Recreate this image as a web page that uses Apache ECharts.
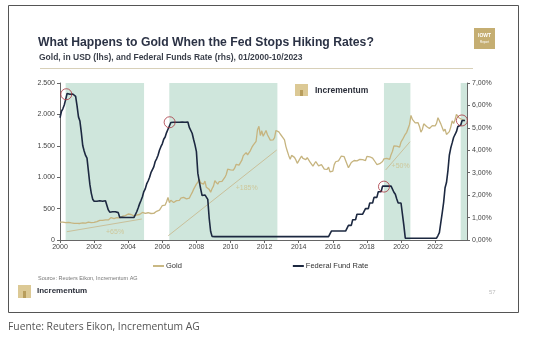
<!DOCTYPE html>
<html><head><meta charset="utf-8">
<script src="https://cdn.jsdelivr.net/npm/echarts@6/dist/echarts.min.js"></script>
<style>html,body{margin:0;padding:0;background:#fff}#c{width:540px;height:343px}</style>
</head><body><div id="c"></div>
<script>
// Monthly gold price (USD), Jan 2000 - Oct 2023
const goldStartYear = 2000;
const gold = [
284,300,286,280,275,285,282,274,273,270,266,272,
266,262,263,260,272,270,268,273,283,283,276,276,
282,296,294,302,314,321,314,310,319,317,319,333,
357,359,340,328,355,356,351,360,379,379,389,407,
414,405,406,404,384,392,398,400,406,420,439,442,
424,423,434,428,422,431,424,438,457,470,476,510,
549,555,557,610,676,596,633,632,598,585,627,629,
631,665,655,679,667,655,665,665,712,754,806,803,
889,922,968,909,888,889,939,839,829,806,760,816,
858,943,924,890,928,946,934,949,996,1043,1127,1135,
1118,1095,1114,1148,1205,1232,1193,1215,1271,1343,1370,1391,
1356,1372,1424,1474,1510,1528,1572,1756,1810,1665,1739,1652,
1656,1743,1675,1649,1591,1598,1594,1630,1744,1770,1721,1688,
1670,1627,1593,1487,1414,1343,1286,1347,1349,1316,1275,1221,
1244,1300,1336,1299,1288,1279,1311,1296,1239,1222,1176,1200,
1250,1227,1179,1198,1199,1181,1128,1117,1124,1159,1086,1062,
1097,1200,1246,1242,1260,1276,1337,1341,1326,1267,1236,1151,
1192,1234,1231,1266,1246,1260,1236,1283,1314,1280,1283,1265,
1331,1331,1325,1335,1303,1282,1238,1202,1198,1215,1220,1250,
1291,1320,1300,1285,1283,1359,1413,1500,1510,1495,1471,1480,
1560,1597,1592,1683,1715,1732,1840,1985,1921,1900,1866,1858,
1867,1808,1718,1760,1850,1834,1807,1785,1776,1777,1821,1790,
1817,1856,1948,1937,1849,1837,1733,1765,1681,1650,1726,1798,
1898,1855,1913,1999,1991,1942,1951,1918,1916,1900
];
// Monthly effective Federal Funds Rate (%), Jan 2000 - Oct 2023
const fedStartYear = 2000;
const fedRate = [
5.45,5.73,5.85,6.02,6.27,6.53,6.54,6.50,6.52,6.51,6.51,6.40,
5.98,5.49,5.31,4.80,4.21,3.97,3.77,3.65,3.07,2.49,2.09,1.82,
1.73,1.74,1.73,1.75,1.75,1.75,1.73,1.74,1.75,1.75,1.34,1.24,
1.24,1.26,1.25,1.26,1.26,1.22,1.01,1.03,1.01,1.01,1.00,0.98,
1.00,1.01,1.00,1.00,1.00,1.03,1.26,1.43,1.61,1.76,1.93,2.16,
2.28,2.50,2.63,2.79,3.00,3.04,3.26,3.50,3.62,3.78,4.00,4.16,
4.29,4.49,4.59,4.79,4.94,4.99,5.24,5.25,5.25,5.25,5.25,5.24,
5.25,5.26,5.26,5.25,5.25,5.25,5.26,5.02,4.94,4.76,4.49,4.24,
3.94,2.98,2.61,2.28,1.98,2.00,2.01,2.00,1.81,0.97,0.39,0.16,
0.15,0.15,0.15,0.15,0.15,0.15,0.15,0.15,0.15,0.15,0.15,0.15,
0.15,0.15,0.15,0.15,0.15,0.15,0.15,0.15,0.15,0.15,0.15,0.15,
0.15,0.15,0.15,0.15,0.15,0.15,0.15,0.15,0.15,0.15,0.15,0.15,
0.15,0.15,0.15,0.15,0.15,0.15,0.15,0.15,0.15,0.15,0.15,0.15,
0.15,0.15,0.15,0.15,0.15,0.15,0.15,0.15,0.15,0.15,0.15,0.15,
0.15,0.15,0.15,0.15,0.15,0.15,0.15,0.15,0.15,0.15,0.15,0.15,
0.15,0.15,0.15,0.15,0.15,0.15,0.15,0.15,0.15,0.15,0.15,0.40,
0.40,0.40,0.40,0.40,0.40,0.40,0.40,0.40,0.40,0.40,0.40,0.65,
0.65,0.65,0.90,0.90,0.90,1.15,1.15,1.15,1.15,1.15,1.15,1.40,
1.40,1.40,1.65,1.65,1.65,1.90,1.90,1.90,2.15,2.15,2.15,2.40,
2.40,2.40,2.40,2.40,2.40,2.40,2.40,2.13,2.04,1.83,1.65,1.65,
1.65,1.65,0.65,0.08,0.08,0.08,0.08,0.08,0.08,0.08,0.08,0.08,
0.08,0.08,0.08,0.08,0.08,0.08,0.08,0.08,0.08,0.08,0.08,0.08,
0.08,0.08,0.20,0.33,0.77,1.21,1.68,2.33,2.56,3.08,3.78,4.10,
4.33,4.57,4.65,4.83,5.06,5.08,5.12,5.33,5.33,5.33
];
// Periods after the Fed stopped hiking (decimal years)
const pausePeriods = [[2000.33,2004.93],[2006.41,2012.75],[2019.0,2020.55],[2023.5,2023.87]];
// Rate peaks (decimal year, %)
const ratePeaks = [[2000.37,6.5],[2006.43,5.25],[2019.0,2.38],[2023.57,5.33]];
// Gold trend lines (decimal year, USD)
const trend1 = [[2000.4,132],[2004.8,334]];
const trend2 = [[2006.35,68],[2012.71,1433]];
const trend3 = [[2019.1,1115],[2020.53,1565]];
const trendLabels = [[2003.23,127,'+65%'],[2010.95,823,'+185%'],[2019.98,1183,'+50%']];
const xTicks = [2000,2002,2004,2006,2008,2010,2012,2014,2016,2018,2020,2022];
const goldTicks = [0,500,1000,1500,2000,2500];
const rateTicks = [0,1,2,3,4,5,6,7];

const goldData = gold.map((v,i)=>[goldStartYear + i/12, v]);
const fedData = fedRate.map((v,i)=>[fedStartYear + i/12, v]);

const chart = echarts.init(document.getElementById('c'));
const F = 'Liberation Sans, Arial, sans-serif';
const trendStyle = {color:'#c9c09a', width:1};
function trendSeries(d){return {type:'line', data:d, symbol:'none', lineStyle:trendStyle, silent:true, z:2};}

chart.setOption({
  animation:false,
  textStyle:{fontFamily:F},
  grid:{left:60, right:73, top:83, bottom:103},
  xAxis:{type:'value', min:2000, max:2023.87, interval:2,
    axisLine:{lineStyle:{color:'#666', width:1}},
    axisTick:{length:3, lineStyle:{color:'#666'}},
    splitLine:{show:false},
    axisLabel:{fontSize:7, color:'#444', margin:4, showMaxLabel:false,
      formatter:v=>xTicks.includes(Math.round(v))?String(Math.round(v)):''}},
  yAxis:[
    {type:'value', min:0, max:2500, interval:500, position:'left',
      axisLine:{show:true, lineStyle:{color:'#666'}},
      axisTick:{show:true, length:3, lineStyle:{color:'#666'}},
      splitLine:{show:false},
      axisLabel:{fontSize:7, color:'#444', margin:5,
        formatter:v=>goldTicks.includes(v)?(v>=1000?Math.floor(v/1000)+'.'+String(v%1000).padStart(3,'0'):String(v)):''}},
    {type:'value', min:0, max:7, interval:1, position:'right',
      axisLine:{show:true, lineStyle:{color:'#666'}},
      axisTick:{show:true, length:3, lineStyle:{color:'#666'}},
      splitLine:{show:false},
      axisLabel:{fontSize:7, color:'#444', margin:5,
        formatter:v=>rateTicks.includes(v)?v.toFixed(2).replace('.',',')+'%':''}}
  ],
  legend:{left:148, top:257, itemGap:111, itemWidth:11, itemHeight:2,
    textStyle:{fontSize:7.5, color:'#333', padding:[0,0,0,-3]},
    data:[{name:'Gold', icon:'rect'},{name:'Federal Fund Rate', icon:'rect'}]},
  series:[
    {type:'line', data:[], silent:true,
      markArea:{silent:true, itemStyle:{color:'#cfe6dc'},
        data:pausePeriods.map(p=>[{xAxis:p[0]},{xAxis:p[1]}])}},
    trendSeries(trend1), trendSeries(trend2), trendSeries(trend3),
    {name:'Gold', type:'line', data:goldData, symbol:'none', z:3,
      itemStyle:{color:'#c9b884'}, lineStyle:{color:'#c6b47f', width:1.3}},
    {name:'Federal Fund Rate', type:'line', yAxisIndex:1, data:fedData, symbol:'none', z:4,
      itemStyle:{color:'#1c2840'}, lineStyle:{color:'#1c2840', width:1.6}},
    {type:'scatter', yAxisIndex:1, data:ratePeaks, symbol:'circle', symbolSize:11, z:5, silent:true,
      itemStyle:{color:'rgba(0,0,0,0)', borderColor:'#a8343f', borderWidth:1}},
    {type:'scatter', data:trendLabels.map(t=>[t[0],t[1],t[2]]), symbolSize:0, silent:true, z:5,
      label:{show:true, position:'inside', formatter:p=>p.data[2], fontSize:7, color:'#cdbf8a'}}
  ],
  graphic:[
    {type:'rect', shape:{x:8.5,y:5.5,width:510,height:307}, style:{fill:'none', stroke:'#555', lineWidth:1}, z:-1},
    {type:'text', left:38, top:37, style:{text:'What Happens to Gold When the Fed Stops Hiking Rates?', font:'bold 12.2px '+F, fill:'#2b3245'}},
    {type:'text', left:39, top:53, style:{text:'Gold, in USD (lhs), and Federal Funds Rate (rhs), 01/2000-10/2023', font:'bold 8.5px '+F, fill:'#3a3f4a'}},
    {type:'line', shape:{x1:40,y1:68.5,x2:473,y2:68.5}, style:{stroke:'#d8d0b8', lineWidth:1}},
    {type:'rect', shape:{x:474,y:28,width:21,height:21}, style:{fill:'#c5ae72'}},
    {type:'text', left:478, top:33, style:{text:'IOWT', font:'bold 5px '+F, fill:'#fff'}},
    {type:'text', left:480, top:41, style:{text:'Report', font:'3px '+F, fill:'#fff'}},
    {type:'rect', shape:{x:295,y:84,width:13,height:12}, style:{fill:'#dcc995'}},
    {type:'rect', shape:{x:300,y:90,width:3,height:6}, style:{fill:'#b89d5c'}},
    {type:'text', left:315, top:86, style:{text:'Incrementum', font:'bold 8.5px '+F, fill:'#2b2f3a'}},
    {type:'text', left:38, top:275, style:{text:'Source: Reuters Eikon, Incrementum AG', font:'5.5px '+F, fill:'#777'}},
    {type:'rect', shape:{x:18,y:285,width:13,height:13}, style:{fill:'#dcc995'}},
    {type:'rect', shape:{x:23,y:291,width:3,height:7}, style:{fill:'#b89d5c'}},
    {type:'text', left:37, top:287, style:{text:'Incrementum', font:'bold 8px '+F, fill:'#2b2f3a'}},
    {type:'text', left:489, top:289, style:{text:'57', font:'6px '+F, fill:'#bbb'}},
    {type:'text', left:8, top:322, style:{text:'Fuente: Reuters Eikon, Incrementum AG', font:'10.3px Open Sans, sans-serif', fill:'#555'}}
  ]
});
</script></body></html>
